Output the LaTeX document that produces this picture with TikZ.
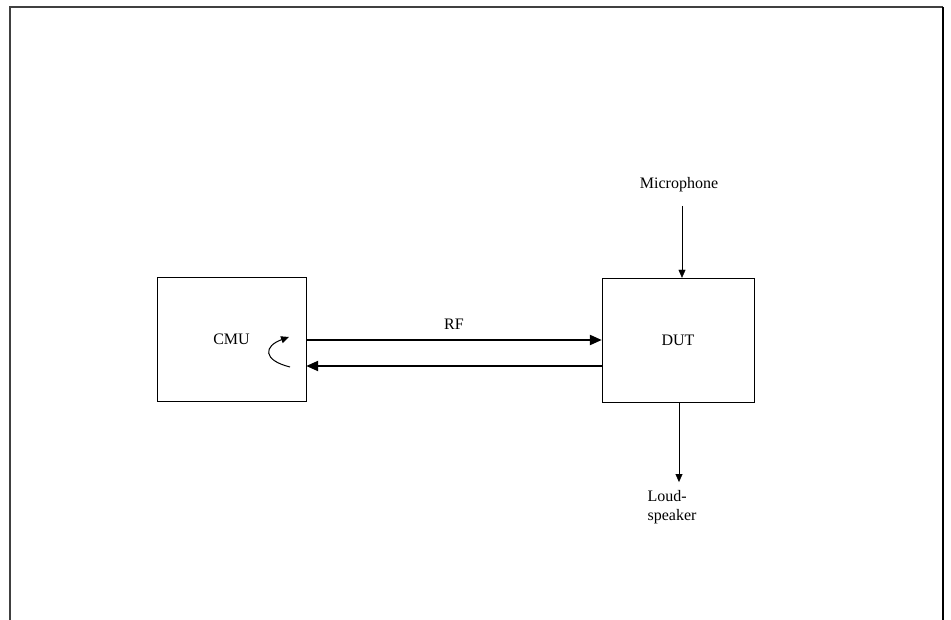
\documentclass[tikz,border=0pt]{standalone}
\usepackage{fontspec}
\setmainfont{Liberation Serif}
\usetikzlibrary{positioning,calc,arrows.meta}

\begin{document}
\begin{tikzpicture}[x=1pt, y=-1pt, font=\fontsize{16}{19}\selectfont]
    \useasboundingbox (0,0) rectangle (951,620);

    % Outer frame (open at the bottom)
    \draw[line width=2pt, black!75] (10,620) -- (10,7) -- (943,7);
    \draw[line width=1.2pt] (943,7) -- (943,620);

    % Boxes
    \node[draw, minimum width=149, minimum height=124] (cmu) at (231.5,339) {CMU};
    \node[draw, minimum width=152, minimum height=124] (dut) at (678,340) {DUT};

    % Audio in and out
    \node (mic) at (679,185) {Microphone};
    \node[align=left, inner sep=1pt] (loud) at (672,507) {Loud-\\speaker};

    % RF link
    \draw[line width=2.2pt, -{Triangle[length=12pt, width=10pt]}] (cmu.east |- dut.center) -- node[above=6pt] (rf) {RF} (dut.west);
    \draw[line width=2.2pt, -{Triangle[length=12pt, width=10pt]}] ([yshift=-26pt]dut.west) -- ([yshift=-26pt]dut.west -| cmu.east);

    % Microphone and loudspeaker
    \draw[shorten <=10pt, -{Triangle[length=8pt, width=7pt]}] ([xshift=3pt]mic.south) -- ([xshift=3pt]mic.south |- dut.north);
    \draw[shorten >=7pt, -{Triangle[length=8pt, width=7pt]}] ([xshift=1pt]dut.south) -- ([xshift=1pt]dut.south |- loud.north);

    % Loopback
    \draw[line width=1pt, -{Triangle[length=8pt, width=7pt]}] (290,367) .. controls (262,360) and (264,346) .. (289,337);
\end{tikzpicture}
\end{document}
